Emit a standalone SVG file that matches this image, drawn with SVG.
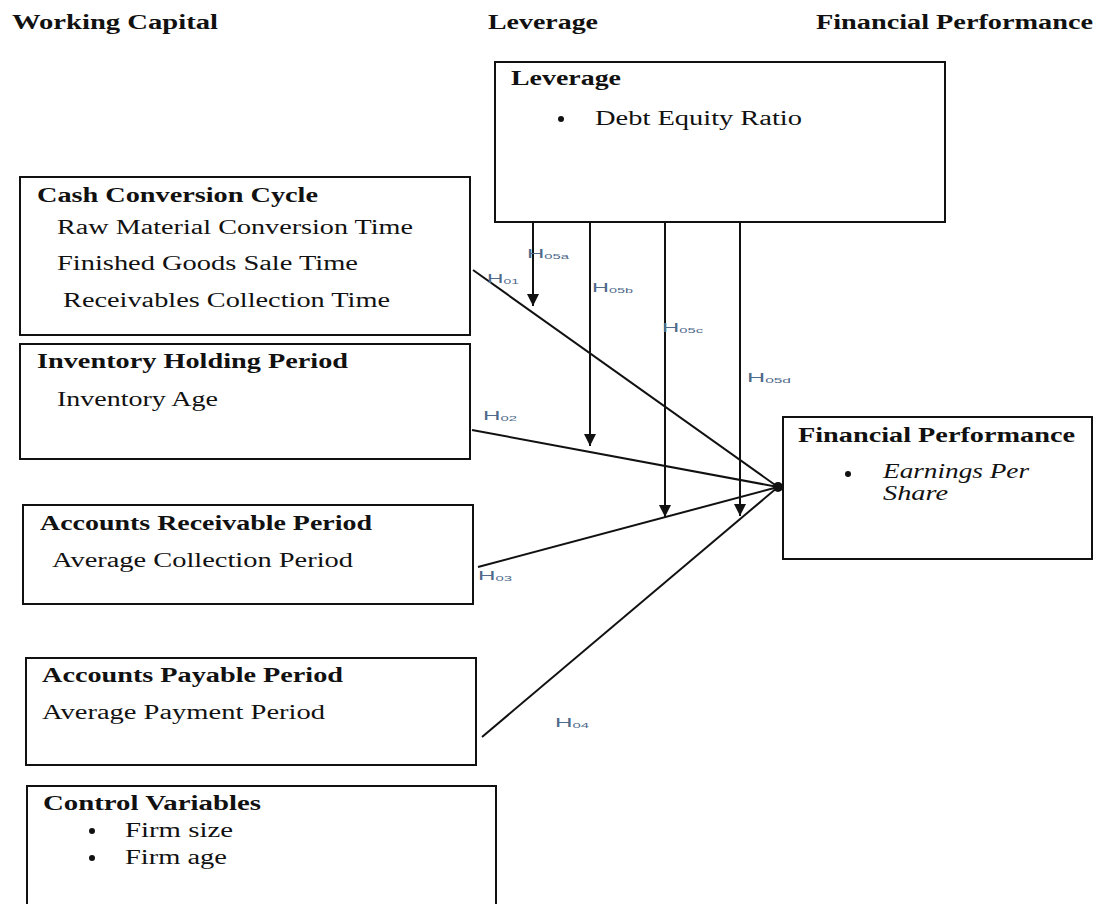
<svg xmlns="http://www.w3.org/2000/svg" width="1102" height="904" viewBox="0 0 1102 904">
<style>
.box{fill:#fff;stroke:#111;stroke-width:2}
.t{font-family:"Liberation Serif","Times New Roman",serif;font-size:20px;fill:#111}
.b{font-weight:bold}
.i{font-style:italic}
.hd{font-family:"Liberation Serif","Times New Roman",serif;font-size:20px;font-weight:bold;fill:#111}
.conn{stroke:#111;stroke-width:2;fill:none}
.h{font-family:"Liberation Sans",Arial,sans-serif;font-size:13px;fill:#4f6a8a}
.sub{font-size:8px}
.dot{fill:#111}
</style>
<defs>
<marker id="arr" markerUnits="userSpaceOnUse" markerWidth="14" markerHeight="14" refX="12" refY="6" orient="auto">
<path d="M0,0 L12,6 L0,12 z" fill="#111"/>
</marker>
</defs>
<rect width="1102" height="904" fill="#fff"/>

<g id="headers">
<text class="hd" x="12" y="29" textLength="206" lengthAdjust="spacingAndGlyphs">Working Capital</text>
<text class="hd" x="488" y="29" textLength="110" lengthAdjust="spacingAndGlyphs">Leverage</text>
<text class="hd" x="816" y="29" textLength="277" lengthAdjust="spacingAndGlyphs">Financial Performance</text>
</g>

<g id="connectors">
<line class="conn" x1="473" y1="270" x2="778" y2="487"/>
<line class="conn" x1="472" y1="430" x2="778" y2="487"/>
<line class="conn" x1="478" y1="567" x2="778" y2="487"/>
<line class="conn" x1="482" y1="737" x2="778" y2="487"/>
<line class="conn" x1="533" y1="222" x2="533" y2="306" marker-end="url(#arr)"/>
<line class="conn" x1="590" y1="222" x2="590" y2="446" marker-end="url(#arr)"/>
<line class="conn" x1="665" y1="222" x2="665" y2="517" marker-end="url(#arr)"/>
<line class="conn" x1="740" y1="222" x2="740" y2="516" marker-end="url(#arr)"/>
<circle class="dot" cx="778" cy="487" r="5"/>
<text class="h" x="487" y="283" textLength="32" lengthAdjust="spacingAndGlyphs">H<tspan class="sub" dy="1">01</tspan></text>
<text class="h" x="527" y="258" textLength="42" lengthAdjust="spacingAndGlyphs">H<tspan class="sub" dy="1">05a</tspan></text>
<text class="h" x="592" y="292" textLength="41" lengthAdjust="spacingAndGlyphs">H<tspan class="sub" dy="1">05b</tspan></text>
<text class="h" x="662" y="332" textLength="41" lengthAdjust="spacingAndGlyphs">H<tspan class="sub" dy="1">05c</tspan></text>
<text class="h" x="747" y="382" textLength="44" lengthAdjust="spacingAndGlyphs">H<tspan class="sub" dy="1">05d</tspan></text>
<text class="h" x="483" y="420" textLength="34" lengthAdjust="spacingAndGlyphs">H<tspan class="sub" dy="1">02</tspan></text>
<text class="h" x="478" y="580" textLength="34" lengthAdjust="spacingAndGlyphs">H<tspan class="sub" dy="1">03</tspan></text>
<text class="h" x="555" y="727" textLength="34" lengthAdjust="spacingAndGlyphs">H<tspan class="sub" dy="1">04</tspan></text>
</g>

<g id="leverage">
<rect class="box" x="495" y="62" width="450" height="160"/>
<text class="t b" x="511" y="85" textLength="110" lengthAdjust="spacingAndGlyphs">Leverage</text>
<circle class="dot" cx="561" cy="119" r="3"/>
<text class="t" x="595" y="125" textLength="207" lengthAdjust="spacingAndGlyphs">Debt Equity Ratio</text>
</g>

<g id="cash-conversion-cycle">
<rect class="box" x="20" y="177" width="450" height="158"/>
<text class="t b" x="37" y="202" textLength="281" lengthAdjust="spacingAndGlyphs">Cash Conversion Cycle</text>
<text class="t" x="57" y="234" textLength="356" lengthAdjust="spacingAndGlyphs">Raw Material Conversion Time</text>
<text class="t" x="57" y="270" textLength="301" lengthAdjust="spacingAndGlyphs">Finished Goods Sale Time</text>
<text class="t" x="63" y="307" textLength="327" lengthAdjust="spacingAndGlyphs">Receivables Collection Time</text>
</g>

<g id="inventory-holding-period">
<rect class="box" x="20" y="344" width="450" height="115"/>
<text class="t b" x="37" y="368" textLength="311" lengthAdjust="spacingAndGlyphs">Inventory Holding Period</text>
<text class="t" x="57" y="406" textLength="161" lengthAdjust="spacingAndGlyphs">Inventory Age</text>
</g>

<g id="accounts-receivable-period">
<rect class="box" x="23" y="505" width="450" height="99"/>
<text class="t b" x="40" y="530" textLength="332" lengthAdjust="spacingAndGlyphs">Accounts Receivable Period</text>
<text class="t" x="52" y="567" textLength="301" lengthAdjust="spacingAndGlyphs">Average Collection Period</text>
</g>

<g id="accounts-payable-period">
<rect class="box" x="26" y="658" width="450" height="107"/>
<text class="t b" x="42" y="682" textLength="301" lengthAdjust="spacingAndGlyphs">Accounts Payable Period</text>
<text class="t" x="42" y="719" textLength="283" lengthAdjust="spacingAndGlyphs">Average Payment Period</text>
</g>

<g id="control-variables">
<rect class="box" x="27" y="786" width="469" height="130"/>
<text class="t b" x="43" y="810" textLength="218" lengthAdjust="spacingAndGlyphs">Control Variables</text>
<circle class="dot" cx="92" cy="831" r="3"/>
<text class="t" x="125" y="837" textLength="108" lengthAdjust="spacingAndGlyphs">Firm size</text>
<circle class="dot" cx="92" cy="858" r="3"/>
<text class="t" x="125" y="864" textLength="102" lengthAdjust="spacingAndGlyphs">Firm age</text>
</g>

<g id="financial-performance">
<rect class="box" x="783" y="417" width="309" height="142"/>
<text class="t b" x="798" y="442" textLength="277" lengthAdjust="spacingAndGlyphs">Financial Performance</text>
<circle class="dot" cx="848" cy="474" r="3"/>
<text class="t i" x="883" y="478" textLength="146" lengthAdjust="spacingAndGlyphs">Earnings Per</text>
<text class="t i" x="883" y="500" textLength="65" lengthAdjust="spacingAndGlyphs">Share</text>
</g>
</svg>
